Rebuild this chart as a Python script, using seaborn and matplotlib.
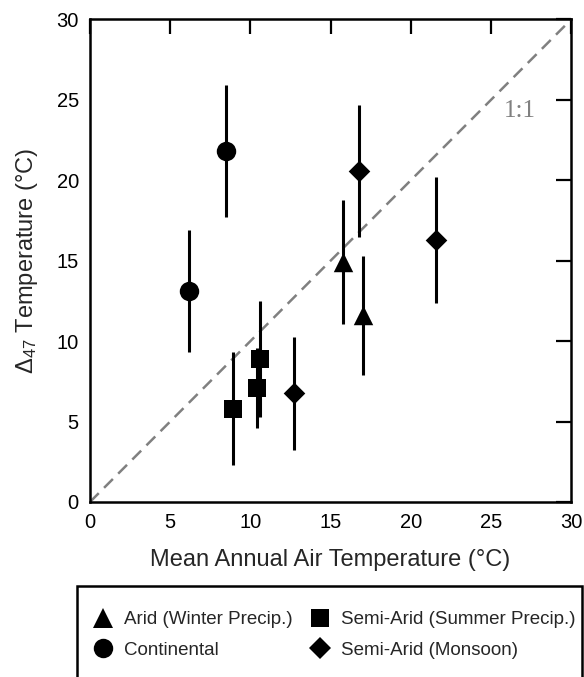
import matplotlib
matplotlib.use("Agg")
import matplotlib.pyplot as plt
from matplotlib.lines import Line2D
from matplotlib.patches import Rectangle
import seaborn as sns
import pandas as pd

# Site groups, mean annual air temperature (x), clumped-isotope temperature (y) and its uncertainty
groups = ["Arid (Winter Precip.)", "Arid (Winter Precip.)",
          "Semi-Arid (Summer Precip.)", "Semi-Arid (Summer Precip.)", "Semi-Arid (Summer Precip.)",
          "Continental", "Continental",
          "Semi-Arid (Monsoon)", "Semi-Arid (Monsoon)", "Semi-Arid (Monsoon)"]
maat = [15.8, 17.0, 8.9, 10.4, 10.6, 6.2, 8.5, 12.7, 16.8, 21.6]
d47_temp = [14.9, 11.6, 5.8, 7.1, 8.9, 13.1, 21.8, 6.75, 20.6, 16.3]
d47_err = [3.85, 3.7, 3.5, 2.5, 3.6, 3.8, 4.1, 3.5, 4.1, 3.9]

legend_order = ["Arid (Winter Precip.)", "Continental",
                "Semi-Arid (Summer Precip.)", "Semi-Arid (Monsoon)"]
marker_map = {"Arid (Winter Precip.)": "^", "Semi-Arid (Summer Precip.)": "s",
              "Continental": "o", "Semi-Arid (Monsoon)": "D"}
msize_map = {"Arid (Winter Precip.)": 14, "Semi-Arid (Summer Precip.)": 12.5,
             "Continental": 14, "Semi-Arid (Monsoon)": 11}

axis_ticks = [0, 5, 10, 15, 20, 25, 30]

df = pd.DataFrame({"group": groups, "maat": maat, "t47": d47_temp, "err": d47_err})

sns.set_style("white")
plt.rcParams["font.family"] = ["Liberation Sans", "DejaVu Sans"]
plt.rcParams["mathtext.default"] = "regular"

fig = plt.figure(figsize=(5.84, 6.77), dpi=100)
ax = fig.add_axes([0.154, 0.2585, 0.824, 0.7127])

# 1:1 reference line
ax.plot([0, 30], [0, 30], color="#808080", lw=1.8, linestyle=(0, (5, 3)), zorder=1)
ax.text(26.8, 24.3, "1:1", color="#808080", fontsize=18,
        family=["Liberation Serif", "DejaVu Serif"], ha="center", va="center")

# vertical uncertainty bars
ax.errorbar(df["maat"], df["t47"], yerr=df["err"], fmt="none",
            ecolor="black", elinewidth=2.2, capsize=0, zorder=2)

for g in legend_order:
    sub = df[df["group"] == g]
    sns.scatterplot(data=sub, x="maat", y="t47", marker=marker_map[g],
                    s=msize_map[g] ** 2, color="black", edgecolor="black",
                    linewidth=0, ax=ax, zorder=3, legend=False)

ax.set_xlim(0, 30)
ax.set_ylim(0, 30)
ax.set_xticks(axis_ticks)
ax.set_yticks(axis_ticks)
ax.tick_params(direction="in", length=11, width=1.6, top=True, right=True,
               labelsize=14.5, pad=8, colors="black")
for sp in ax.spines.values():
    sp.set_linewidth(1.8)
    sp.set_color("black")
ax.set_xlabel("Mean Annual Air Temperature (°C)", fontsize=17, labelpad=12)
ax.set_ylabel("Δ$_{47}$ Temperature (°C)", fontsize=17, labelpad=12)

# legend block below the axes
fig.patches.append(Rectangle((77 / 584, -0.05), 505 / 584, 0.05 + 1 - 586 / 677,
                             transform=fig.transFigure, fill=False,
                             edgecolor="black", linewidth=1.8))
handles = [Line2D([], [], linestyle="none", marker=marker_map[g], color="black",
                  markersize=msize_map[g], markeredgewidth=0) for g in legend_order]
fig.legend(handles, legend_order, ncol=2, loc="upper left",
           bbox_to_anchor=(94 / 584, 1 - 611 / 677), frameon=False, fontsize=13.5,
           handlelength=1.0, handletextpad=0.62, columnspacing=0.95,
           labelspacing=0.72, borderpad=0, borderaxespad=0)

fig.savefig("out.png", dpi=100)
